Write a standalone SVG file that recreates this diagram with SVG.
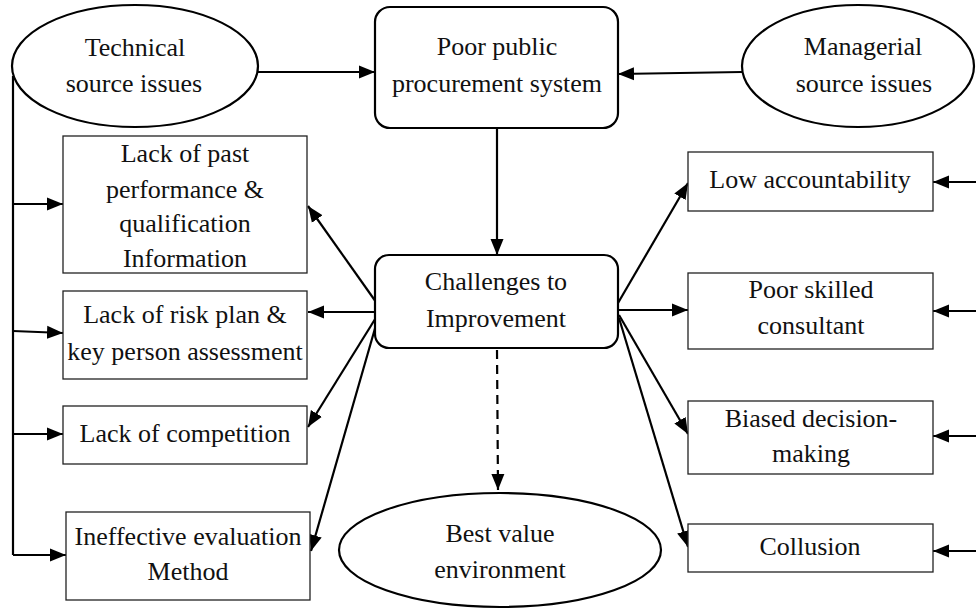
<svg xmlns="http://www.w3.org/2000/svg" width="976" height="614" viewBox="0 0 976 614">
  <style>
    .bg { fill: #ffffff; }
    .line { stroke: #000; stroke-width: 2.2; fill: none; }
    .dash { stroke: #000; stroke-width: 2.2; fill: none; stroke-dasharray: 9 6; }
    .box { fill: #fff; stroke: #222; stroke-width: 1.3; }
    .rbox { fill: #fff; stroke: #000; stroke-width: 2.2; }
    .oval { fill: #fff; stroke: #000; stroke-width: 2.2; }
    text { font-family: "Liberation Serif", "Times New Roman", serif; font-size: 26px; fill: #111; text-anchor: middle; }
  </style>
  <defs>
    <marker id="arrow" markerUnits="userSpaceOnUse" markerWidth="18" markerHeight="14" refX="16" refY="7" orient="auto">
      <path d="M0,0.5 L16,7 L0,13.5 z" fill="#000"/>
    </marker>
  </defs>

  <rect class="bg" x="0" y="0" width="976" height="614"/>

  <!-- connectors -->
  <g id="connectors">
    <!-- left feeder bus -->
    <path class="line" d="M13,76 L13,555"/>
    <path class="line" d="M13,204 L63,204" marker-end="url(#arrow)"/>
    <path class="line" d="M13,331 L63,333" marker-end="url(#arrow)"/>
    <path class="line" d="M13,434 L63,434" marker-end="url(#arrow)"/>
    <path class="line" d="M13,555 L66,555" marker-end="url(#arrow)"/>
    <!-- right feeders from the page edge -->
    <path class="line" d="M980,182 L933,182" marker-end="url(#arrow)"/>
    <path class="line" d="M980,311 L933,311" marker-end="url(#arrow)"/>
    <path class="line" d="M980,436 L933,436" marker-end="url(#arrow)"/>
    <path class="line" d="M980,551 L933,551" marker-end="url(#arrow)"/>
    <!-- sources into procurement system -->
    <path class="line" d="M258,72 L375,72" marker-end="url(#arrow)"/>
    <path class="line" d="M742,72 L618,74" marker-end="url(#arrow)"/>
    <!-- procurement system to challenges -->
    <path class="line" d="M497,128 L497,255" marker-end="url(#arrow)"/>
    <!-- challenges to left items -->
    <path class="line" d="M376,302 L308,206" marker-end="url(#arrow)"/>
    <path class="line" d="M375,312 L308,312" marker-end="url(#arrow)"/>
    <path class="line" d="M377,316 L308,427" marker-end="url(#arrow)"/>
    <path class="line" d="M378,318 L311,551" marker-end="url(#arrow)"/>
    <!-- challenges to right items -->
    <path class="line" d="M618,303 L688,183" marker-end="url(#arrow)"/>
    <path class="line" d="M618,310 L688,310" marker-end="url(#arrow)"/>
    <path class="line" d="M619,315 L688,434" marker-end="url(#arrow)"/>
    <path class="line" d="M619,318 L688,547" marker-end="url(#arrow)"/>
    <!-- challenges to outcome -->
    <path class="dash" d="M497,350 L498,490" marker-end="url(#arrow)"/>
  </g>

  <g id="technical">
    <ellipse class="oval" cx="135" cy="66" rx="123" ry="61"/>
    <text x="135" y="56">Technical</text>
    <text x="134" y="92">source issues</text>
  </g>

  <g id="managerial">
    <ellipse class="oval" cx="858" cy="66" rx="116" ry="61"/>
    <text x="863" y="55">Managerial</text>
    <text x="864" y="92">source issues</text>
  </g>

  <g id="procurement">
    <rect class="rbox" x="375" y="7" width="243" height="121" rx="15" ry="15"/>
    <text x="497" y="55">Poor public</text>
    <text x="497" y="92">procurement system</text>
  </g>

  <g id="challenges">
    <rect class="rbox" x="375" y="255" width="243" height="93" rx="14" ry="14"/>
    <text x="496" y="290">Challenges to</text>
    <text x="496" y="327">Improvement</text>
  </g>

  <g id="best-value">
    <ellipse class="oval" cx="500" cy="550" rx="161" ry="57"/>
    <text x="500" y="542">Best value</text>
    <text x="500" y="578">environment</text>
  </g>

  <g id="past-performance">
    <rect class="box" x="63" y="136" width="244" height="137"/>
    <text x="185" y="162">Lack of past</text>
    <text x="185" y="198">performance &amp;</text>
    <text x="185" y="232">qualification</text>
    <text x="185" y="267">Information</text>
  </g>

  <g id="risk-plan">
    <rect class="box" x="63" y="291" width="244" height="88"/>
    <text x="185" y="323">Lack of risk plan &amp;</text>
    <text x="185" y="360">key person assessment</text>
  </g>

  <g id="competition">
    <rect class="box" x="63" y="406" width="244" height="58"/>
    <text x="185" y="442">Lack of competition</text>
  </g>

  <g id="evaluation">
    <rect class="box" x="66" y="512" width="244" height="88"/>
    <text x="188" y="545">Ineffective evaluation</text>
    <text x="188" y="580">Method</text>
  </g>

  <g id="accountability">
    <rect class="box" x="688" y="152" width="245" height="59"/>
    <text x="810" y="188">Low accountability</text>
  </g>

  <g id="consultant">
    <rect class="box" x="688" y="273" width="245" height="76"/>
    <text x="811" y="298">Poor skilled</text>
    <text x="811" y="334">consultant</text>
  </g>

  <g id="biased">
    <rect class="box" x="688" y="401" width="245" height="73"/>
    <text x="811" y="427">Biased decision-</text>
    <text x="811" y="462">making</text>
  </g>

  <g id="collusion">
    <rect class="box" x="688" y="524" width="245" height="48"/>
    <text x="810" y="555">Collusion</text>
  </g>
</svg>
